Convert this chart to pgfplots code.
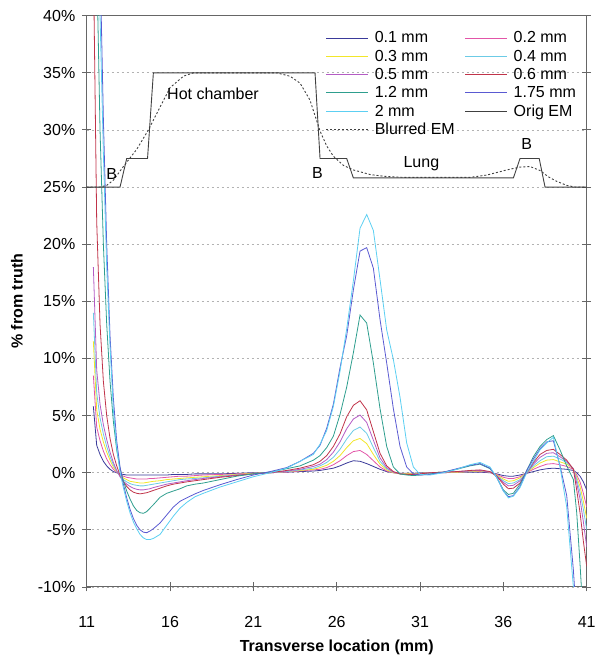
\documentclass[border=0pt]{standalone}
\usepackage{fontspec}
\setmainfont{Liberation Sans}
\usepackage{pgfplots}
\usepackage{pgfplotstable}
\pgfplotsset{compat=1.18}
\definecolor{cA}{HTML}{3A3A9A}
\definecolor{cB}{HTML}{E255A8}
\definecolor{cC}{HTML}{F2E62A}
\definecolor{cD}{HTML}{6CCBE6}
\definecolor{cE}{HTML}{B45CC4}
\definecolor{cF}{HTML}{C0344A}
\definecolor{cG}{HTML}{2E9E8E}
\definecolor{cH}{HTML}{5A5AD2}
\definecolor{cI}{HTML}{5CCFF2}
\definecolor{em}{HTML}{404040}
\pgfplotstableread{
x a b c d e f g h i
11.4 5.8 8.5 11.5 14 18 45 70 90 90
11.6 2.4 4.0 5.5 7.0 9.0 22 45 65 60
11.8 1.6 2.8 3.8 4.8 6.0 13 30 45 40
12.0 1.0 1.9 2.7 3.4 4.2 8 20 31 28
12.2 0.6 1.2 1.8 2.3 2.9 5 13 20 18
12.4 0.3 0.7 1.1 1.4 1.8 3 8 12 11
12.6 0.1 0.3 0.5 0.7 0.9 1.6 4.5 6.5 5.5
12.8 0.0 0.05 0.1 0.15 0.2 0.6 2.0 2.8 2.2
13.0 -0.1 -0.15 -0.25 -0.3 -0.35 -0.2 0.4 0.5 0.0
13.2 -0.15 -0.3 -0.45 -0.6 -0.75 -0.8 -0.7 -1.0 -1.3
13.4 -0.2 -0.4 -0.6 -0.8 -1.0 -1.2 -1.6 -2.2 -2.5
13.6 -0.2 -0.45 -0.75 -0.95 -1.2 -1.5 -2.3 -3.2 -3.5
13.8 -0.2 -0.5 -0.8 -1.05 -1.35 -1.7 -2.9 -4.0 -4.3
14.0 -0.2 -0.55 -0.85 -1.1 -1.45 -1.8 -3.3 -4.6 -4.9
14.2 -0.2 -0.55 -0.9 -1.15 -1.5 -1.85 -3.5 -5.0 -5.4
14.4 -0.2 -0.55 -0.9 -1.15 -1.5 -1.8 -3.55 -5.2 -5.7
14.6 -0.2 -0.55 -0.85 -1.1 -1.45 -1.75 -3.4 -5.25 -5.85
14.8 -0.2 -0.5 -0.8 -1.05 -1.4 -1.65 -3.1 -5.1 -5.85
15.0 -0.2 -0.5 -0.75 -1.0 -1.3 -1.55 -2.8 -4.9 -5.75
15.4 -0.2 -0.45 -0.7 -0.9 -1.15 -1.35 -2.15 -4.4 -5.4
15.8 -0.2 -0.4 -0.6 -0.8 -1.0 -1.15 -1.8 -3.7 -4.6
16.2 -0.15 -0.35 -0.55 -0.7 -0.9 -1.0 -1.6 -3.0 -3.8
16.6 -0.15 -0.3 -0.5 -0.6 -0.8 -0.9 -1.4 -2.5 -3.1
17.0 -0.15 -0.3 -0.45 -0.55 -0.7 -0.8 -1.15 -2.2 -2.6
17.5 -0.1 -0.25 -0.4 -0.5 -0.6 -0.7 -1.0 -1.85 -2.1
18.0 -0.1 -0.2 -0.35 -0.45 -0.5 -0.6 -0.9 -1.55 -1.8
19.0 -0.1 -0.15 -0.25 -0.3 -0.35 -0.4 -0.6 -1.05 -1.25
20.0 -0.05 -0.1 -0.15 -0.2 -0.2 -0.25 -0.3 -0.6 -0.8
21.0 0.0 -0.05 -0.05 -0.1 -0.1 -0.1 -0.1 -0.2 -0.35
22.0 0.0 0.0 0.0 0.0 0.0 0.0 0.05 0.1 0.0
23.0 0.05 0.05 0.1 0.1 0.15 0.2 0.35 0.45 0.4
23.8 0.1 0.15 0.2 0.25 0.3 0.4 0.6 1.0 1.0
24.6 0.15 0.25 0.3 0.4 0.55 0.7 1.1 1.7 1.6
25.0 0.2 0.3 0.45 0.6 0.75 1.0 1.5 2.4 2.5
25.4 0.3 0.45 0.65 0.9 1.15 1.5 2.2 3.9 3.7
25.8 0.4 0.7 1.0 1.35 1.8 2.3 3.2 6.0 5.8
26.2 0.6 1.05 1.5 2.05 2.7 3.4 5.1 9.2 8.9
26.6 0.85 1.5 2.2 2.95 3.85 4.9 7.5 12.0 12.6
27.0 1.05 1.85 2.8 3.7 4.7 5.9 10.5 16.0 16.8
27.4 1.0 1.95 3.0 4.0 5.05 6.3 13.8 19.4 21.4
27.8 0.8 1.6 2.55 3.45 4.4 5.5 13.1 19.7 22.6
28.2 0.55 1.05 1.6 2.2 2.85 3.6 9.6 17.9 21.2
28.6 0.3 0.5 0.75 1.0 1.3 1.7 5.6 13.4 16.9
29.0 0.1 0.15 0.25 0.35 0.45 0.6 2.3 9.6 12.5
29.4 0.0 0.0 0.0 0.05 0.05 0.1 0.5 5.6 9.9
29.8 -0.05 -0.05 -0.1 -0.1 -0.1 -0.1 -0.1 2.3 6.6
30.2 -0.05 -0.1 -0.1 -0.15 -0.15 -0.15 -0.2 0.5 2.6
30.6 -0.05 -0.1 -0.1 -0.15 -0.15 -0.15 -0.25 -0.1 0.5
31.0 0.0 -0.05 -0.05 -0.1 -0.1 -0.1 -0.2 -0.2 -0.15
31.6 0.0 0.0 0.0 0.0 0.0 0.0 -0.1 -0.15 -0.2
32.4 0.0 0.0 0.05 0.05 0.05 0.05 0.05 0.05 0.0
33.2 0.05 0.05 0.05 0.1 0.1 0.1 0.3 0.35 0.3
34.0 0.05 0.1 0.1 0.15 0.15 0.2 0.6 0.65 0.7
34.6 0.05 0.1 0.15 0.2 0.2 0.25 0.75 0.8 0.9
35.2 0.0 0.05 0.05 0.05 0.05 0.1 0.35 0.4 0.5
35.6 -0.1 -0.15 -0.2 -0.25 -0.25 -0.3 -0.4 -0.4 -0.4
36.0 -0.25 -0.4 -0.55 -0.7 -0.85 -1.0 -1.5 -1.6 -1.6
36.3 -0.3 -0.5 -0.75 -0.95 -1.15 -1.4 -1.9 -2.1 -2.2
36.6 -0.3 -0.5 -0.7 -0.9 -1.1 -1.35 -1.8 -2.0 -2.05
37.0 -0.2 -0.35 -0.45 -0.6 -0.7 -0.9 -1.0 -1.2 -1.3
37.4 -0.05 0.0 0.0 0.0 0.0 0.0 0.2 0.2 0.0
37.8 0.1 0.3 0.45 0.6 0.75 0.9 1.4 1.2 1.0
38.2 0.25 0.55 0.85 1.05 1.35 1.6 2.3 2.1 2.0
38.6 0.35 0.75 1.1 1.4 1.7 1.95 2.9 2.7 2.6
39.0 0.4 0.8 1.15 1.45 1.75 2.05 3.25 2.8 3.1
39.4 0.35 0.7 0.95 1.2 1.4 1.6 2.0 0.6 0.5
39.8 0.3 0.55 0.75 0.9 1.0 1.1 0.6 -2.0 -3.0
40.2 0.2 0.3 0.35 0.35 0.35 0.3 -0.6 -8.5 -10
40.4 0.0 -0.2 -0.4 -0.6 -0.9 -1.5 -3.5 -13 -14
40.6 -0.3 -0.8 -1.2 -1.7 -2.3 -3.5 -8 -18 -18
40.8 -0.8 -1.8 -2.5 -3.2 -4.3 -6.0 -13 -22 -22
41.0 -1.5 -3.0 -4.0 -5.0 -6.5 -8.2 -18 -26 -26
}\res
\pgfplotstableread{
x y
11 25
13.0 25
13.4 27.5
14.65 27.5
15.0 35
24.7 35
25.0 27.5
26.6 27.5
27.0 25.8
36.6 25.8
37.0 27.5
38.15 27.5
38.5 25
41 25
}\orig
\pgfplotstableread{
x y
11 25
11.8 25
12.2 25.15
12.6 25.6
13.2 26.8
14.0 28.3
14.7 30
15.4 32.0
16.0 33.7
16.8 34.7
17.4 35
22.4 35
23.2 34.7
23.8 34.1
24.4 32.6
25.0 29.9
25.4 28.6
25.8 27.7
26.4 26.9
27.0 26.5
28.0 26.1
28.8 25.95
30.0 25.85
34.0 25.85
35.0 26.05
36.2 26.5
37.0 26.75
37.6 26.8
38.2 26.45
38.7 25.9
39.2 25.5
39.8 25.15
40.3 25.0
41 25
}\blur
\begin{document}
\begin{tikzpicture}
\begin{axis}[
  name=ax,
  scale only axis,
  width=500pt, height=571.3pt,
  xmin=11, xmax=41, ymin=-10, ymax=40,
  xtick={11,16,21,26,31,36,41},
  ytick={-10,-5,0,5,10,15,20,25,30,35,40},
  yticklabels={-10\%,-5\%,0\%,5\%,10\%,15\%,20\%,25\%,30\%,35\%,40\%},
  xtick pos=bottom, ytick pos=both,
  tick align=center, major tick length=9pt,
  tick style={draw=black!60, line width=0.9pt},
  axis line style={draw=black!60, line width=1pt},
  ymajorgrids,
  grid style={draw=black!30, line width=0.8pt, dash pattern=on 2pt off 3pt},
  /pgf/number format/assume math mode=true,
  tick label style={font=\fontsize{16}{19}\selectfont},
  xticklabel style={anchor=base, yshift=-36pt},
  yticklabel style={anchor=east, xshift=-3.4pt},
  xlabel={Transverse location (mm)},
  ylabel={\% from truth},
  every axis x label/.style={at={(rel axis cs:0.5,0)}, anchor=base, yshift=-65pt, font=\fontsize{16}{19}\selectfont\bfseries},
  every axis y label/.style={at={(rel axis cs:0,0.5)}, rotate=90, anchor=center, yshift=69.7pt, font=\fontsize{16}{19}\selectfont\bfseries},
  legend columns=2,
  legend cell align=left,
  legend image code/.code={\draw[#1] (0pt,0pt) -- (42pt,0pt); \path (46pt,0pt);},
  legend style={at={(0.478,0.976)}, anchor=north west, draw=none, fill=none,
    font=\fontsize{16}{19}\selectfont, inner sep=0pt,
    row sep=1.6pt,
    /tikz/every even column/.append style={column sep=8pt}},
  every axis plot/.append style={line width=0.8pt},
]
\addplot[cA] table[x=x,y=a] {\res};
\addlegendentry{0.1 mm}
\addplot[cB] table[x=x,y=b] {\res};
\addlegendentry{0.2 mm}
\addplot[cC] table[x=x,y=c] {\res};
\addlegendentry{0.3 mm}
\addplot[cD] table[x=x,y=d] {\res};
\addlegendentry{0.4 mm}
\addplot[cE] table[x=x,y=e] {\res};
\addlegendentry{0.5 mm}
\addplot[cF] table[x=x,y=f] {\res};
\addlegendentry{0.6 mm}
\addplot[cG] table[x=x,y=g] {\res};
\addlegendentry{1.2 mm}
\addplot[cH] table[x=x,y=h] {\res};
\addlegendentry{1.75 mm}
\addplot[cI] table[x=x,y=i] {\res};
\addlegendentry{2 mm}
\addplot[em, line width=0.9pt] table[x=x,y=y] {\orig};
\addlegendentry{Orig EM}
\addplot[em, line width=0.9pt, dash pattern=on 2pt off 2pt] table[x=x,y=y] {\blur};
\addlegendentry{Blurred EM}
\node[font=\fontsize{16}{19}\selectfont] at (axis cs:18.58,33.2) {Hot chamber};
\node[font=\fontsize{16}{19}\selectfont] at (axis cs:12.5,26.15) {B};
\node[font=\fontsize{16}{19}\selectfont] at (axis cs:24.85,26.24) {B};
\node[font=\fontsize{16}{19}\selectfont] at (axis cs:31.08,27.07) {Lung};
\node[font=\fontsize{16}{19}\selectfont] at (axis cs:37.4,28.8) {B};
\end{axis}
\pgfresetboundingbox
\path[use as bounding box] ([xshift=-86.7pt,yshift=-72pt]ax.south west) rectangle ([xshift=15.3pt,yshift=15.7pt]ax.north east);
\end{tikzpicture}
\end{document}
